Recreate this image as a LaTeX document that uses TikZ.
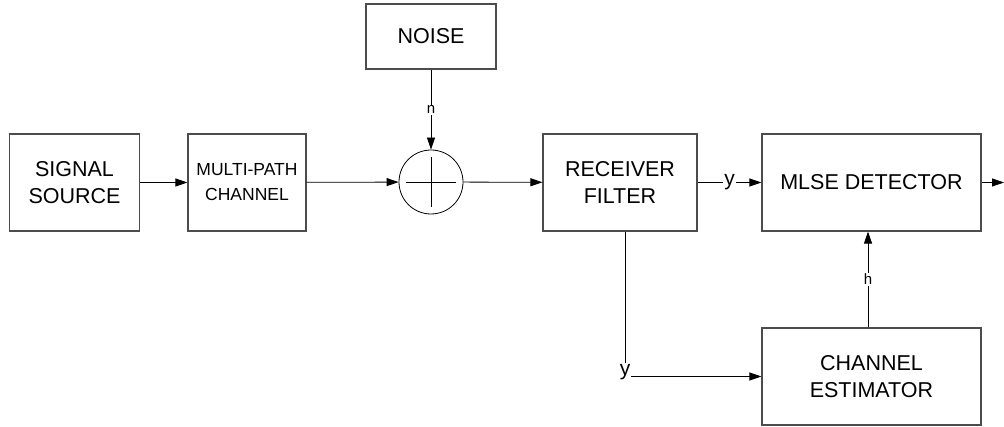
\documentclass[tikz,border=0pt]{standalone}
\usepackage{fontspec}
\setmainfont{Liberation Sans}
\usetikzlibrary{arrows.meta}
\begin{document}
\begin{tikzpicture}[x=1pt,y=-1pt,
  blk/.style={draw=black!70,line width=1.1pt,rectangle,align=center,inner sep=0pt,
    font=\fontsize{21.5}{26.5}\selectfont},
  conn/.style={draw=black,line width=0.8pt},
  arr/.style={conn,-{Triangle[length=12pt,width=8pt]}},
  lbl/.style={fill=white,inner sep=1pt,font=\fontsize{15}{15}\selectfont},
  ylbl/.style={fill=white,inner sep=1pt,font=\fontsize{21}{21}\selectfont}]
\useasboundingbox (0,0) rectangle (1004,427);
\node[blk,minimum width=130pt,minimum height=97pt] (src) at (74.5,182.5) {SIGNAL\\SOURCE};
\node[blk,minimum width=118pt,minimum height=97pt,font=\fontsize{17.5}{25}\selectfont] (mp) at (247,182.5) {MULTI-PATH\\CHANNEL};
\node[draw=black,line width=0.8pt,circle,minimum size=64pt,inner sep=0pt] (sum) at (431,182) {};
\draw[conn] ([xshift=-25pt]sum.center) -- ([xshift=25pt]sum.center);
\draw[conn] ([yshift=-25pt]sum.center) -- ([yshift=25pt]sum.center);
\node[blk,minimum width=130pt,minimum height=65pt] (noise) at (431,36.5) {NOISE};
\node[blk,minimum width=154pt,minimum height=97pt] (rf) at (620,182.5) {RECEIVER\\FILTER};
\node[blk,minimum width=219pt,minimum height=97pt] (mlse) at (871.5,182.5) {MLSE DETECTOR};
\node[blk,minimum width=219pt,minimum height=97pt] (est) at (871.5,376.5) {CHANNEL\\ESTIMATOR};
\coordinate (out) at (1004,182.5);
\coordinate (hx) at (868,0);
\node[inner sep=1pt,font=\fontsize{21}{21}\selectfont] (y2) at (625,372) {y};

\draw[arr] (src) -- (mp);
\draw[arr] (mp) -- (sum);
\draw[arr] (sum) -- (rf);
\draw[arr] (noise) -- node[lbl]{n} (sum);
\draw[arr] (rf) -- node[ylbl,pos=0.5]{y} (mlse);
\draw[arr] (mlse.east) -- (out);
\draw[arr] (est.north -| hx) -- node[lbl]{h} (mlse.south -| hx);
\draw[conn] (rf.south -| y2) -- (y2.north);
\draw[arr] (est.west -| y2.east) -- (est.west);
\end{tikzpicture}
\end{document}
